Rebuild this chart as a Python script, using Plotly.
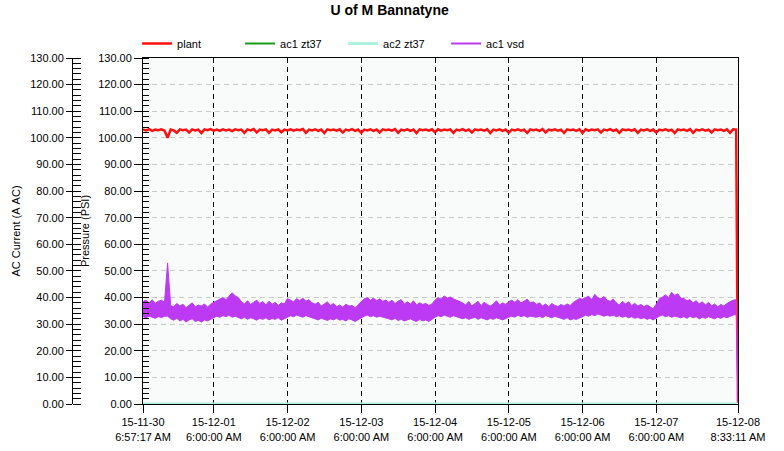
import pandas as pd
import plotly.graph_objects as go

# ---------------- data ----------------
start_time = "2015-11-30 06:57:17"
end_time = "2015-12-08 08:33:11"

# hourly samples starting at start_time (194 samples), followed by the final point at end_time
plant = [
    103.2, 102.8, 103.3, 102.6, 103.1, 102.9, 103.2, 102.7, 100.0, 103.1, 102.8, 101.9,
    103.2, 102.9, 103.1, 102.0, 103.2, 102.8, 103.1, 101.8, 103.2, 102.9, 103.3, 102.7,
    103.1, 102.6, 103.2, 102.8, 103.1, 102.5, 103.2, 102.9, 103.1, 101.9, 103.2, 102.8,
    103.3, 102.0, 103.1, 102.9, 103.2, 101.9, 103.1, 102.8, 103.2, 102.1, 103.1, 102.8,
    103.2, 102.7, 103.1, 102.9, 103.3, 101.9, 103.1, 102.8, 103.2, 102.6, 103.1, 101.8,
    103.2, 102.9, 103.1, 102.7, 103.2, 102.0, 103.1, 102.8, 103.3, 102.6, 103.1, 101.9,
    103.1, 102.8, 103.2, 102.6, 103.1, 102.0, 103.2, 102.9, 103.1, 102.7, 103.3, 101.9,
    103.1, 102.8, 103.2, 102.6, 103.1, 101.8, 103.2, 102.9, 103.1, 102.7, 103.2, 102.1,
    103.2, 102.7, 103.1, 102.9, 103.2, 101.9, 103.1, 102.8, 103.3, 102.6, 103.1, 102.0,
    103.2, 102.9, 103.1, 102.7, 103.2, 101.8, 103.1, 102.8, 103.2, 102.6, 103.1, 101.9,
    103.1, 102.8, 103.2, 102.7, 103.1, 101.9, 103.2, 102.9, 103.1, 102.6, 103.3, 102.0,
    103.1, 102.8, 103.2, 102.7, 103.1, 101.9, 103.2, 102.9, 103.1, 102.6, 103.2, 101.8,
    103.2, 102.7, 103.1, 102.9, 103.2, 102.0, 103.1, 102.8, 103.3, 102.6, 103.1, 101.9,
    103.2, 102.9, 103.1, 102.7, 103.2, 101.9, 103.1, 102.8, 103.2, 102.6, 103.1, 102.0,
    103.1, 102.8, 103.2, 102.7, 103.1, 101.8, 103.2, 102.9, 103.1, 102.6, 103.3, 101.9,
    103.1, 102.8, 103.2, 102.7, 103.1, 102.0, 103.2, 102.9, 103.1, 102.6, 103.2, 101.9,
    103.2, 103.1,
]
plant_end = 0.0

# ac1 vsd: hourly upper and lower extent of the noisy trace
vsd_hi = [
    38.5, 39, 38, 39.2, 37.8, 38.6, 39, 38.2,
    53,
    37, 36.5, 37.8, 36.8, 37.5, 36.2, 37, 38, 36.5, 37.2, 36.8, 37.6, 36.4, 37.5, 38.2,
    38.8, 39.5, 40, 39.2, 40.5, 41.8, 40.6, 40,
    38.5, 37.6, 38.8, 37.4, 38.2, 39, 37.8, 38.5, 37.2, 38.6, 37.5, 38.2, 37, 38, 37.6, 39.6,
    39, 38.4, 39.6, 38.8, 39.8, 38.6, 39.2, 38,
    37.5, 38.2, 36.8, 37.6, 38.4, 37, 37.8, 36.5, 37.2, 36.4, 37.5, 36.8, 37, 36.2, 37.4, 38.5,
    39.5, 40, 39, 39.8, 38.8, 39.5, 38.6, 39,
    38.2, 39, 37.8, 38.6, 39.2, 37.6, 38.4, 37.5, 38.8, 37.2, 38, 37.4, 37.8, 37, 37.6, 39,
    40, 39.4, 40.6, 39.8, 40.2, 39.5, 39, 38.6,
    38, 37.2, 38.5, 36.8, 37.8, 38.6, 37, 38.2, 37.4, 36.8, 37.6, 38.8, 37.2, 38, 37.4, 38.5,
    39, 38.2, 39.2, 38, 38.6, 39.4, 38, 38.4,
    37.4, 38, 36.8, 37.6, 36.5, 37.8, 37, 36.6, 37.4, 36.8, 37.6, 37, 38.2, 38.8, 39.6, 39.4,
    40, 40.5, 39.2, 41.2, 40, 39.5, 40.4, 39,
    38.6, 39.4, 38, 37.2, 38.5, 37.6, 38.4, 37, 37.8, 36.8, 37.4, 36.6, 37.2, 36.4, 35.8, 37.5,
    39.5, 40.2, 41, 40, 42, 40.8, 41.4, 39.8,
    39.6, 38.8, 39.2, 38, 38.8, 37.6, 38.4, 37.2, 38.2, 36.8, 37.6, 36.5, 37.4, 36.8, 37.8, 38.4, 39, 39.2,
]
vsd_lo = [
    32.8, 32.4, 33, 32.6, 32.2, 32.8, 32.5, 33,
    33,
    32, 31.5, 32.2, 31.2, 31.8, 30.8, 31.6, 32, 31, 31.4, 30.8, 31.6, 31.2, 31.8, 32.4,
    33, 32.6, 33.2, 32.8, 33.4, 32.6, 33, 32.4,
    32, 32.6, 31.8, 32.4, 32, 31.5, 32.2, 31.8, 32.4, 31.6, 32.2, 31.8, 32.4, 31.5, 32, 32.6,
    33.2, 32.8, 33.4, 33, 32.6, 33.2, 32.8, 32.4,
    32, 31.6, 32.2, 31.8, 31.4, 32, 31.6, 32.2, 31.5, 31.8, 31.2, 32, 31.6, 31, 31.8, 32.4,
    33, 33.4, 32.8, 33.2, 32.6, 33, 32.8, 32.4,
    32, 31.6, 32.2, 31.4, 31.8, 31.2, 31.6, 32, 31.4, 31, 31.8, 31.2, 31.6, 31, 31.8, 32.6,
    33.2, 32.8, 33.4, 33, 32.6, 33.2, 32.8, 32.4,
    32, 32.4, 31.8, 32.2, 32.6, 31.8, 32.4, 32, 31.6, 32.2, 31.8, 32.4, 32, 31.6, 32, 32.6,
    33, 32.6, 33.4, 32.8, 33.2, 32.6, 33, 32.8,
    32.6, 33, 32.4, 33.2, 32.8, 32.4, 33, 32.6, 32.2, 31.8, 32.4, 31.6, 32, 31.8, 32.4, 32.8,
    33.4, 33, 33.6, 33.2, 33.8, 33.4, 33, 33.4,
    33, 33.4, 32.8, 33.2, 32.6, 33, 32.4, 32.8, 32.2, 32.6, 32, 32.4, 31.8, 32.2, 31.6, 32.2,
    33, 33.4, 32.8, 33.2, 32.6, 33, 32.8, 32.4,
    32.8, 32.2, 33, 32.4, 32.8, 32, 32.6, 32.2, 32.8, 32.4, 32, 32.6, 32.2, 32.8, 32.4, 33, 33.4, 33.6,
]
vsd_end = 0.0

ac1_zt37 = [0.0, 0.0]
ac2_zt37 = [0.0, 0.0]

tick_times = [
    "2015-11-30 06:57:17", "2015-12-01 06:00:00", "2015-12-02 06:00:00",
    "2015-12-03 06:00:00", "2015-12-04 06:00:00", "2015-12-05 06:00:00",
    "2015-12-06 06:00:00", "2015-12-07 06:00:00", "2015-12-08 08:33:11",
]
tick_dates = ["15-11-30", "15-12-01", "15-12-02", "15-12-03", "15-12-04",
              "15-12-05", "15-12-06", "15-12-07", "15-12-08"]
tick_clock = ["6:57:17 AM", "6:00:00 AM", "6:00:00 AM", "6:00:00 AM", "6:00:00 AM",
              "6:00:00 AM", "6:00:00 AM", "6:00:00 AM", "8:33:11 AM"]

assert len(plant) == len(vsd_hi) == len(vsd_lo), (len(plant), len(vsd_hi), len(vsd_lo))

# ---------------- build ----------------
n = len(plant)
times = list(pd.date_range(start_time, periods=n, freq="h")) + [pd.Timestamp(end_time)]
edge_times = [pd.Timestamp(start_time), pd.Timestamp(end_time)]

# closed band polygon for the noisy ac1 vsd trace (upper edge forward, lower edge back)
band_x = times + times[::-1]
band_y = (vsd_hi + [vsd_end]) + (vsd_lo + [vsd_end])[::-1]

FONT = "Arial, Liberation Sans, sans-serif"
VSD = "#bc3af4"

fig = go.Figure()
fig.add_trace(go.Scatter(x=times, y=plant + [plant_end], name="plant", mode="lines",
                         line=dict(color="#ff1010", width=2.5)))
fig.add_trace(go.Scatter(x=edge_times, y=ac1_zt37, name="ac1 zt37", mode="lines",
                         line=dict(color="#1a9c1a", width=2), yaxis="y2"))
fig.add_trace(go.Scatter(x=edge_times, y=ac2_zt37, name="ac2 zt37", mode="lines",
                         line=dict(color="#aef3df", width=3), yaxis="y2"))
fig.add_trace(go.Scatter(x=band_x, y=band_y, name="ac1 vsd", mode="lines",
                         fill="toself", fillcolor=VSD, showlegend=False,
                         line=dict(color=VSD, width=1)))
# legend entry for ac1 vsd
fig.add_trace(go.Scatter(x=[None], y=[None], name="ac1 vsd", mode="lines",
                         line=dict(color=VSD, width=2)))

W, H = 784, 451
L, R, T, B = 0, 46, 58, 47
pw = W - L - R
x0 = (143 - L) / pw

fig.update_layout(
    width=W, height=H,
    margin=dict(l=L, r=R, t=T, b=B),
    paper_bgcolor="white",
    plot_bgcolor="#f9fbfa",
    font=dict(family=FONT, size=11, color="black"),
    title=dict(text="<b>U of M Bannatyne</b>", x=0.497, xanchor="center",
               y=1 - 10 / H, yanchor="middle", yref="container",
               font=dict(size=14, family=FONT, color="black")),
    showlegend=True,
    legend=dict(orientation="h", x=x0 - 0.008, xanchor="left", y=1.0, yanchor="bottom",
                font=dict(size=11, family=FONT), bgcolor="rgba(0,0,0,0)",
                traceorder="normal", entrywidth=58, entrywidthmode="pixels",
                itemwidth=30, tracegroupgap=0),
    xaxis=dict(
        type="date", domain=[x0, 1],
        range=[start_time, end_time],
        tickmode="array", tickvals=tick_times,
        ticktext=[f"{d}<br>{c}" for d, c in zip(tick_dates, tick_clock)],
        ticks="outside", ticklen=8, tickcolor="black",
        showline=True, linecolor="black", linewidth=1, mirror=True,
        showgrid=True, gridcolor="black", gridwidth=1, griddash="5px,4px",
        zeroline=False, automargin=False,
        tickfont=dict(size=11, family=FONT, color="black"),
    ),
    yaxis=dict(
        range=[0, 130], dtick=10, tick0=0, tickformat=".2f",
        ticks="outside", ticklen=8, tickcolor="black",
        minor=dict(ticks="inside", ticklen=6, dtick=2, tickcolor="black", showgrid=False),
        showline=True, linecolor="black", linewidth=1, mirror=True,
        showgrid=True, gridcolor="#c6cec9", gridwidth=1, griddash="5px,4px",
        zeroline=False, automargin=False,
        title=dict(text="Pressure (PSI)", font=dict(size=11, family=FONT, color="black"),
                   standoff=6),
        tickfont=dict(size=11, family=FONT, color="black"),
    ),
    yaxis2=dict(
        overlaying="y", anchor="free", position=(72 - L) / pw, side="left",
        range=[0, 130], dtick=10, tick0=0, tickformat=".2f",
        ticks="outside", ticklen=6, tickcolor="black",
        minor=dict(ticks="inside", ticklen=8, dtick=2, tickcolor="black", showgrid=False),
        showline=True, linecolor="black", linewidth=1,
        showgrid=False, zeroline=False, automargin=False,
        title=dict(text="AC Current (A\u00a0AC)", font=dict(size=11, family=FONT, color="black"),
                   standoff=6),
        tickfont=dict(size=11, family=FONT, color="black"),
    ),
)

fig.write_html("out.html")
